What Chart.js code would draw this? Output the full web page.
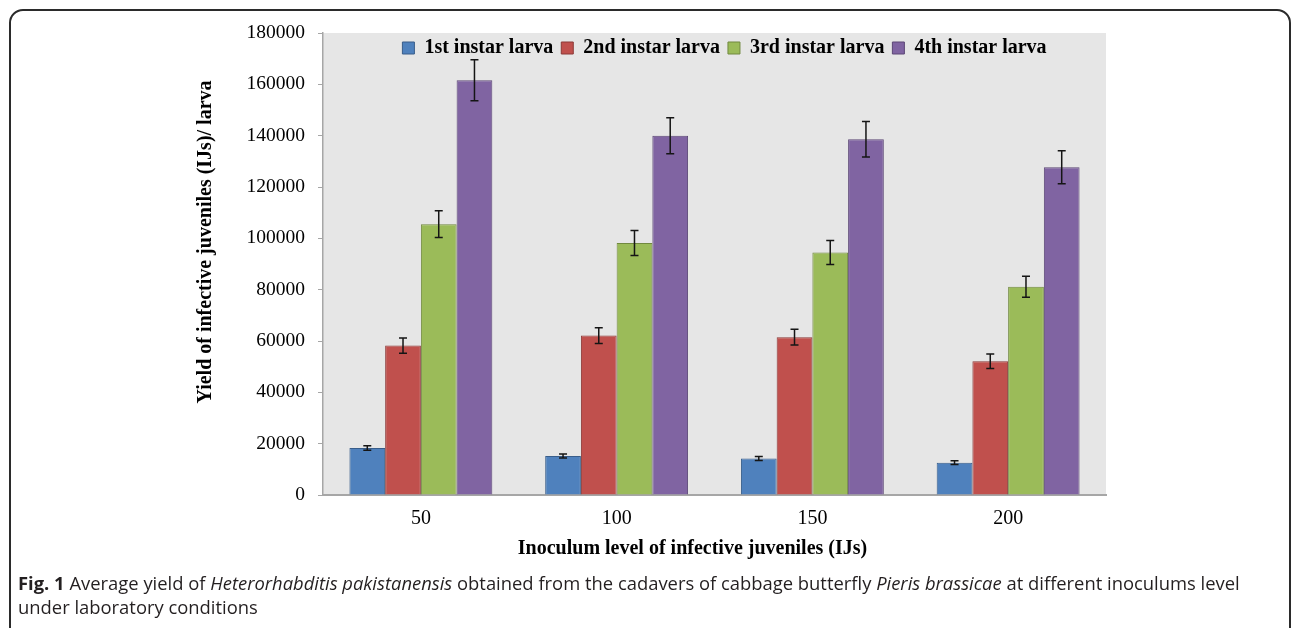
<!DOCTYPE html>
<html><head><meta charset="utf-8">
<script src="https://cdn.jsdelivr.net/npm/chart.js@4.4.1/dist/chart.umd.min.js"></script>
<style>
html,body{margin:0;padding:0;background:#fff;width:1292px;height:628px;overflow:hidden;position:relative;}
#frame{position:absolute;left:9px;top:9px;width:1282px;height:700px;border:2px solid #2b2b2b;border-radius:14px 14px 0 0;box-sizing:border-box;}
#c{position:absolute;left:0;top:0;}
#cap{position:absolute;left:18px;top:571px;font-family:'Open Sans';font-size:18.4px;line-height:24px;color:#231f20;white-space:nowrap;}
</style></head><body>
<div id="frame"></div>
<canvas id="c" width="1292" height="575"></canvas>
<div id="cap"><b>Fig. 1</b> Average yield of <i>Heterorhabditis pakistanensis</i> obtained from the cadavers of cabbage butterfly <i>Pieris brassicae</i> at different inoculums level<br>under laboratory conditions</div>
<script>
const categories = ['50', '100', '150', '200'];
const seriesNames = ['1st instar larva', '2nd instar larva', '3rd instar larva', '4th instar larva'];
const instar1 = [18300, 15200, 14200, 12600];
const instar1Err = [900, 800, 800, 700];
const instar2 = [58200, 62100, 61500, 52100];
const instar2Err = [3000, 3100, 3100, 2800];
const instar3 = [105500, 98200, 94500, 81100];
const instar3Err = [5200, 4900, 4700, 4100];
const instar4 = [161600, 140000, 138600, 127700];
const instar4Err = [8000, 7000, 6900, 6400];
const yTicks = [0, 20000, 40000, 60000, 80000, 100000, 120000, 140000, 160000, 180000];
const xTitle = 'Inoculum level of infective juveniles (IJs)';
const yTitle = 'Yield of infective juveniles (IJs)/ larva';

const fills = ['#4F81BD', '#C0504D', '#9BBB59', '#8064A2'];
const edges = ['#385D8A', '#8C3836', '#71893F', '#5C4776'];
const values = [instar1, instar2, instar3, instar4];
const errors = [instar1Err, instar2Err, instar3Err, instar4Err];

const serif = 'Liberation Serif';

const plotBg = {
  id: 'plotBg',
  beforeDraw(chart) {
    const a = chart.chartArea, ctx = chart.ctx;
    ctx.save(); ctx.fillStyle = '#e6e6e6';
    ctx.fillRect(a.left, a.top, a.right - a.left, a.bottom - a.top);
    ctx.restore();
  }
};
const errorBars = {
  id: 'errorBars',
  afterDatasetsDraw(chart) {
    const ctx = chart.ctx, y = chart.scales.y;
    chart.data.datasets.forEach((ds, di) => {
      const meta = chart.getDatasetMeta(di);
      const err = errors[di];
      meta.data.forEach((bar, i) => {
        const v = ds.data[i], e = err[i];
        const yt = y.getPixelForValue(v + e), yb = y.getPixelForValue(v - e);
        ctx.save(); ctx.strokeStyle = '#151515'; ctx.lineWidth = 1.5;
        ctx.beginPath();
        ctx.moveTo(bar.x, yt); ctx.lineTo(bar.x, yb);
        ctx.moveTo(bar.x - 4, yt); ctx.lineTo(bar.x + 4, yt);
        ctx.moveTo(bar.x - 4, yb); ctx.lineTo(bar.x + 4, yb);
        ctx.stroke(); ctx.restore();
      });
    });
  }
};
// legend drawn inside the plot area, axis titles centred on the whole chart (as in the original)
const layoutTweaks = {
  id: 'layoutTweaks',
  afterLayout(chart) {
    const lg = chart.legend;
    if (lg) { lg.top = 30; lg.bottom = 72; lg.left += 10; lg.right += 10; }
    const ys = chart.scales.y, xs = chart.scales.x;
    if (ys && !ys._titleShift) {
      const orig = ys.drawTitle.bind(ys);
      ys.drawTitle = function () { const t = this.top; this.top -= 44; orig(); this.top = t; };
      ys._titleShift = true;
    }
    if (xs && !xs._titleShift) {
      const orig = xs.drawTitle.bind(xs);
      xs.drawTitle = function () { const l = this.left; this.left -= 44; orig(); this.left = l; };
      xs._titleShift = true;
    }
  }
};

Chart.defaults.font.family = serif;
new Chart(document.getElementById('c'), {
  type: 'bar',
  data: {
    labels: categories,
    datasets: seriesNames.map((n, i) => ({
      label: n, data: values[i], backgroundColor: fills[i], borderColor: edges[i], borderWidth: 1
    }))
  },
  options: {
    responsive: false, animation: false, devicePixelRatio: 1,
    layout: { padding: { left: 0, right: 186, top: 23, bottom: 0 } },
    datasets: { bar: { categoryPercentage: 0.73, barPercentage: 1.0 } },
    plugins: {
      tooltip: { enabled: false },
      legend: {
        display: true, position: 'top', fullSize: false, maxHeight: 10,
        labels: { boxWidth: 12, boxHeight: 12, padding: 8, color: '#000',
          font: { family: serif, size: 20, weight: 'bold' } }
      }
    },
    scales: {
      x: {
        ticks: { font: { family: serif, size: 20 }, color: '#000', padding: 12 },
        grid: { display: false, drawTicks: false },
        border: { display: true, color: '#a6a6a6', width: 2 },
        title: { display: true, text: xTitle, color: '#000', font: { family: serif, size: 20, weight: 'bold' }, padding: { top: 0, bottom: 14 } },
        afterFit: s => { s.height = 80; }
      },
      y: {
        min: 0, max: 180000,
        afterBuildTicks: s => { s.ticks = yTicks.map(v => ({ value: v })); },
        ticks: { font: { family: serif, size: 19.5 }, color: '#000', padding: 13, callback: v => String(v) },
        grid: { display: true, drawOnChartArea: false, drawTicks: true, tickLength: 5, color: '#a6a6a6', lineWidth: 1 },
        border: { display: true, color: '#a6a6a6', width: 1.5 },
        title: { display: true, text: yTitle, color: '#000', font: { family: serif, size: 20, weight: 'bold' }, padding: { top: 194, bottom: 0 } },
        afterFit: s => { s.width = 323; }
      }
    }
  },
  plugins: [plotBg, errorBars, layoutTweaks]
});
</script>
</body></html>
